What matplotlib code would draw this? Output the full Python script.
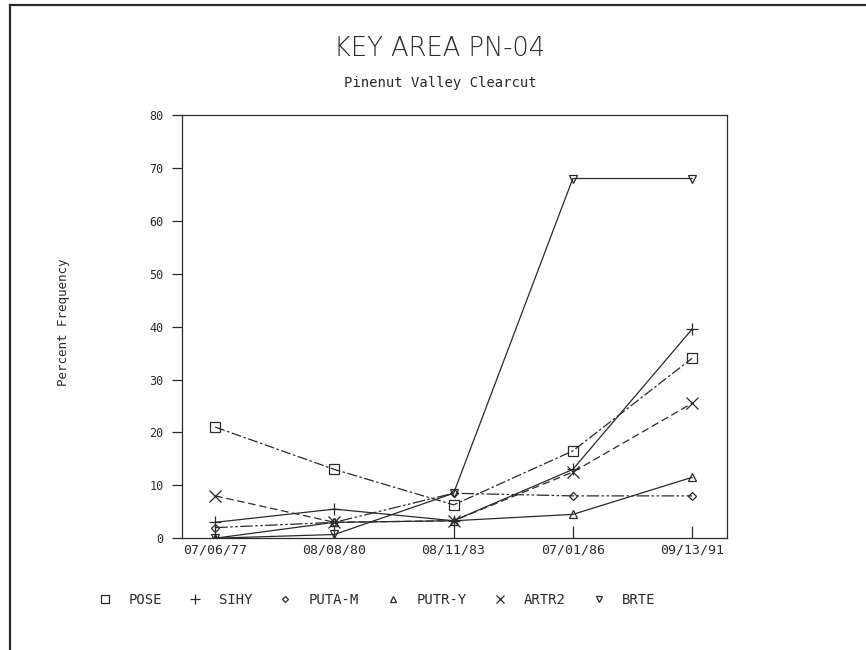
import numpy as np
import matplotlib
matplotlib.use("Agg")
import matplotlib.pyplot as plt
from matplotlib.lines import Line2D

# survey dates (plotted as evenly spaced categories)
dates = ["07/06/77", "08/08/80", "08/11/83", "07/01/86", "09/13/91"]

pose = [21, 13, 6.3, 16.5, 34]
sihy = [3, 5.5, 3.3, 13, 39.5]
puta_m = [2, 3, 8.5, 8, 8]
putr_y = [0, 3, 3.3, 4.5, 11.5]
artr2 = [8, 3, 3.3, 12.5, 25.5]
brte = [0, 0.7, 8.5, 68, 68]

names = ["POSE", "SIHY", "PUTA-M", "PUTR-Y", "ARTR2", "BRTE"]
series = [pose, sihy, puta_m, putr_y, artr2, brte]
markers = ["s", "+", "D", "^", "x", "v"]
styles = [(0, (8, 2, 2, 2)), "-", (0, (10, 2, 2, 2, 2, 2)), "-", (0, (6, 3)), "-"]
msizes = [7, 9, 4, 6, 8, 6]

ink = "#2a2a2a"
mono = "DejaVu Sans Mono"
plt.rcParams["font.family"] = ["DejaVu Sans"]

fig = plt.figure(figsize=(8.66, 6.5), dpi=100)
ax = fig.add_axes([0.210, 0.172, 0.629, 0.651])

x = np.arange(len(dates))
for vals, name, m, ls, ms in zip(series, names, markers, styles, msizes):
    ax.plot(x, vals, color=ink, lw=0.9, ls=ls, marker=m, ms=ms,
            mfc="none", mec=ink, mew=0.9, label=name)

ax.set_xlim(-0.28, 4.29)
ax.set_ylim(0, 80)
ax.set_xticks(x)
ax.set_xticklabels(dates, fontsize=9.5, color=ink, fontfamily=mono)
ax.set_yticks(np.arange(0, 81, 10))
ax.set_yticklabels([str(v) for v in range(0, 81, 10)], fontsize=8.5, color=ink,
                   fontfamily=mono)
ax.tick_params(axis="x", direction="in", length=9, width=0.9, color=ink, pad=4)
ax.tick_params(axis="y", direction="out", length=7, width=0.9, color=ink, pad=6)
for sp in ax.spines.values():
    sp.set_color(ink)
    sp.set_linewidth(0.9)

ax.set_ylabel("Percent Frequency", fontsize=9, color=ink, fontfamily=mono)
ax.yaxis.set_label_coords(-0.205, 0.51)

fig.text(0.508, 0.925, "KEY AREA PN-04", ha="center", va="center", fontsize=18.5,
         color=ink, fontweight="light")
fig.text(0.508, 0.872, "Pinenut Valley Clearcut", ha="center", va="center",
         fontsize=10, color=ink, fontfamily=mono)

handles = [Line2D([], [], ls="none", marker=m, ms=s * 0.75, mfc="none", mec=ink, mew=0.9)
           for m, s in zip(markers, msizes)]
leg = fig.legend(handles, names, loc="center", bbox_to_anchor=(0.435, 0.077), ncol=6,
                 frameon=False, handlelength=1.0, handletextpad=1.2,
                 columnspacing=1.9, prop={"family": mono, "size": 10})
for t in leg.get_texts():
    t.set_color(ink)

# scanned page border (left and top edges)
fig.add_artist(Line2D([0.012, 0.012], [0.0, 0.992], transform=fig.transFigure, color=ink, lw=1.6))
fig.add_artist(Line2D([0.012, 1.0], [0.992, 0.992], transform=fig.transFigure, color=ink, lw=1.6))

fig.savefig("out.png", dpi=100, facecolor="white")
